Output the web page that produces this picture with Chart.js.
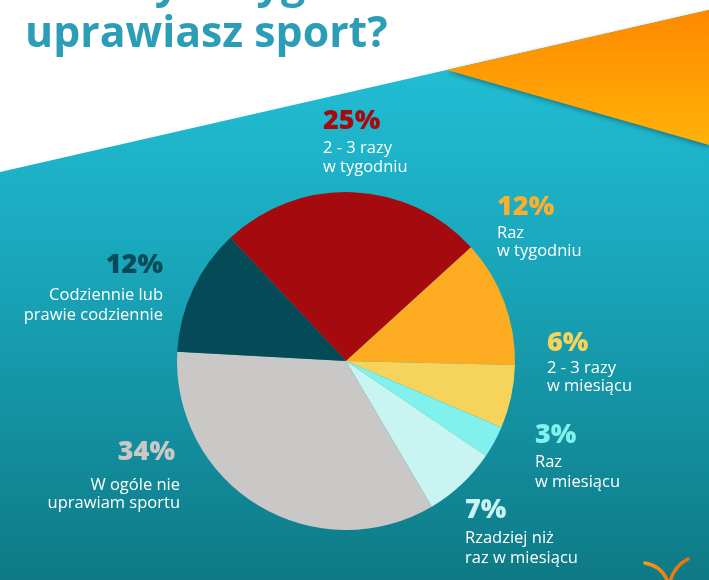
<!DOCTYPE html>
<html>
<head>
<meta charset="utf-8">
<script src="https://cdn.jsdelivr.net/npm/chart.js@4"></script>
<style>
html,body{margin:0;padding:0;background:#fff;overflow:hidden;}
canvas{display:block;}
</style>
</head>
<body>
<canvas id="c" width="709" height="580"></canvas>
<script>
// ---- data ----
const categories = [
  "2 - 3 razy w tygodniu",
  "Raz w tygodniu",
  "2 - 3 razy w miesiącu",
  "Raz w miesiącu",
  "Rzadziej niż raz w miesiącu",
  "W ogóle nie uprawiam sportu",
  "Codziennie lub prawie codziennie"
];
const values = [25, 12, 6, 3, 7, 34, 12];
const labelLines = [
  ["2 - 3 razy", "w tygodniu"],
  ["Raz", "w tygodniu"],
  ["2 - 3 razy", "w miesiącu"],
  ["Raz", "w miesiącu"],
  ["Rzadziej niż", "raz w miesiącu"],
  ["W ogóle nie", "uprawiam sportu"],
  ["Codziennie lub", "prawie codziennie"]
];
const titleLines = ["Ile razy w tygodniu", "uprawiasz sport?"];

// ---- styles ----
const colors = ["#A50B0E", "#FDAC22", "#F6D45C", "#80F1EC", "#C8F4F1", "#C9C8C6", "#054B57"];
const pctColors = ["#A50B0E", "#FBAF2D", "#F6D45C", "#80F1EC", "#C8F4F1", "#C9C8C6", "#054B57"];
const labelPos = [
  {x: 323, y: 129, align: "left"},
  {x: 497, y: 215, align: "left"},
  {x: 547, y: 351, align: "left"},
  {x: 535, y: 443, align: "left"},
  {x: 465, y: 518, align: "left"},
  {x: 175, y: 460, align: "right", tx: 180},
  {x: 163, y: 273, align: "right", tx: 163}
];
const textGaps = [[24, 43], [23, 41], [22, 40], [24, 44], [25, 45], [30, 48], [27, 47]];

const bgPlugin = {
  id: "bg",
  beforeDraw(chart) {
    const ctx = chart.ctx;
    const W = chart.width, H = chart.height;
    ctx.save();
    const g = ctx.createLinearGradient(0, 60, 0, H);
    g.addColorStop(0, "#22BED4");
    g.addColorStop(0.35, "#1AA9BE");
    g.addColorStop(1, "#0E7A86");
    ctx.fillStyle = g;
    ctx.fillRect(0, 0, W, H);
    ctx.fillStyle = "#FFFFFF";
    ctx.beginPath();
    ctx.moveTo(0, 0); ctx.lineTo(W, 0); ctx.lineTo(W, 10); ctx.lineTo(0, 172); ctx.closePath();
    ctx.fill();
    ctx.shadowColor = "rgba(0,0,0,0.35)";
    ctx.shadowBlur = 5;
    ctx.shadowOffsetY = 2;
    const og = ctx.createLinearGradient(0, 10, 0, 145);
    og.addColorStop(0, "#FF8800");
    og.addColorStop(1, "#FFB208");
    ctx.fillStyle = og;
    ctx.beginPath();
    ctx.moveTo(447, 70); ctx.lineTo(W, 10); ctx.lineTo(W, 145); ctx.closePath();
    ctx.fill();
    ctx.shadowColor = "transparent";
    ctx.fillStyle = "#2B9DB7";
    ctx.textBaseline = "alphabetic";
    ctx.textAlign = "left";
    let fs = 45;
    ctx.font = "bold " + fs + "px 'Open Sans'";
    const w = ctx.measureText(titleLines[1]).width;
    fs = fs * 363 / w;
    ctx.font = "bold " + fs.toFixed(1) + "px 'Open Sans'";
    ctx.fillText(titleLines[0], 25, -2);
    ctx.fillText(titleLines[1], 25, 47);
    const lg = ctx.createLinearGradient(640, 560, 690, 580);
    lg.addColorStop(0, "#FF9A1A");
    lg.addColorStop(1, "#E86A00");
    ctx.strokeStyle = lg;
    ctx.lineWidth = 3.5;
    ctx.lineCap = "round";
    ctx.beginPath();
    ctx.moveTo(645, 563);
    ctx.quadraticCurveTo(662, 566, 668, 582);
    ctx.moveTo(688, 559);
    ctx.quadraticCurveTo(674, 566, 670, 582);
    ctx.stroke();
    ctx.restore();
  }
};

const labelPlugin = {
  id: "labels",
  afterDraw(chart) {
    const ctx = chart.ctx;
    ctx.save();
    ctx.textBaseline = "alphabetic";
    values.forEach((v, i) => {
      const p = labelPos[i];
      ctx.textAlign = p.align;
      ctx.fillStyle = pctColors[i];
      ctx.font = "800 27px 'Open Sans'";
      ctx.fillText(v + "%", p.x, p.y);
      ctx.fillStyle = "#FFFFFF";
      ctx.font = "16.5px 'Open Sans'";
      const tx = p.tx !== undefined ? p.tx : p.x;
      ctx.fillText(labelLines[i][0], tx, p.y + textGaps[i][0]);
      ctx.fillText(labelLines[i][1], tx, p.y + textGaps[i][1]);
    });
    ctx.restore();
  }
};

new Chart(document.getElementById("c"), {
  type: "pie",
  data: {
    labels: categories,
    datasets: [{
      data: values,
      backgroundColor: colors,
      borderWidth: 0
    }]
  },
  options: {
    responsive: false,
    animation: false,
    rotation: -43.2,
    layout: {padding: {left: 177, right: 194, top: 192, bottom: 50}},
    plugins: {legend: {display: false}, tooltip: {enabled: false}, title: {display: false}}
  },
  plugins: [bgPlugin, labelPlugin]
});
</script>
</body>
</html>
